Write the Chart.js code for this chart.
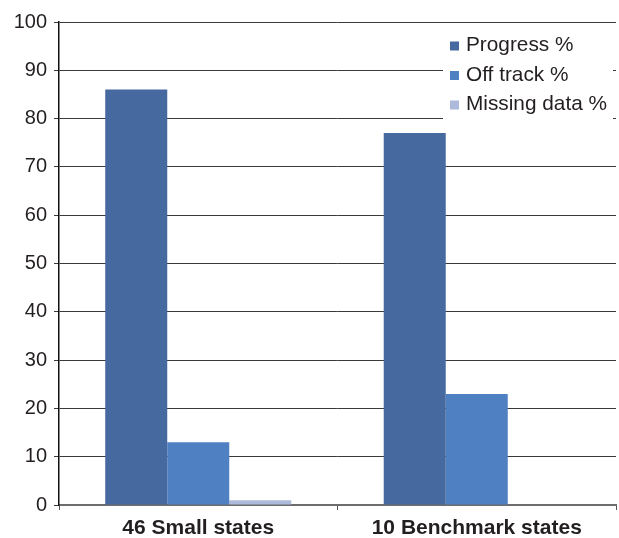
<!DOCTYPE html>
<html>
<head>
<meta charset="utf-8">
<script src="https://cdn.jsdelivr.net/npm/chart.js@4/dist/chart.umd.min.js"></script>
<style>
  html, body { margin: 0; padding: 0; background: #fff; }
  #wrap { width: 619px; height: 538px; }
</style>
</head>
<body>
<div id="wrap"><canvas id="c" width="619" height="538"></canvas></div>
<script>
const categories = ['46 Small states', '10 Benchmark states'];
const progress = [86, 77];
const offTrack = [13, 23];
const missingData = [1, 0];
const seriesNames = ['Progress %', 'Off track %', 'Missing data %'];
const seriesColors = ['#46699f', '#4f80c1', '#adbadb'];

const textColor = '#231f20';
const font = 'Liberation Sans, Arial, Helvetica, sans-serif';

// Legend box drawn inside the plot area, top right, on a white panel
const insideLegend = {
  id: 'insideLegend',
  afterDatasetsDraw(chart) {
    const ctx = chart.ctx;
    const area = chart.chartArea;
    const x0 = area.right - 173, y0 = area.top + 4, w = 170, h = 97;
    ctx.save();
    ctx.fillStyle = '#fff';
    ctx.fillRect(x0, y0, w, h);
    ctx.font = '20.8px ' + font;
    ctx.textBaseline = 'middle';
    chart.data.datasets.forEach((ds, i) => {
      const cy = area.top + 23.5 + i * 29.5;
      ctx.fillStyle = ds.backgroundColor;
      ctx.fillRect(x0 + 7, cy - 4, 9, 9);
      ctx.fillStyle = textColor;
      ctx.fillText(ds.label, x0 + 23, cy);
    });
    ctx.restore();
  }
};

new Chart(document.getElementById('c'), {
  type: 'bar',
  data: {
    labels: categories,
    datasets: [
      { label: seriesNames[0], data: progress, backgroundColor: seriesColors[0] },
      { label: seriesNames[1], data: offTrack, backgroundColor: seriesColors[1] },
      { label: seriesNames[2], data: missingData, backgroundColor: seriesColors[2] }
    ]
  },
  options: {
    responsive: false,
    animation: false,
    devicePixelRatio: 1,
    layout: { padding: { top: 22, right: 3, left: 0, bottom: 0 } },
    datasets: { bar: { categoryPercentage: 0.668, barPercentage: 1, borderWidth: 0 } },
    plugins: { legend: { display: false }, tooltip: { enabled: false } },
    scales: {
      x: {
        offset: true,
        grid: { offset: true, drawOnChartArea: false, drawTicks: true, tickLength: 5, color: '#555', lineWidth: 1 },
        border: { display: true, color: '#6d6d6d', width: 2 },
        ticks: { color: textColor, font: { family: font, size: 21, weight: 'bold' }, padding: 6 },
        afterFit(s) { s.height = 33; }
      },
      y: {
        min: 0, max: 100,
        ticks: { stepSize: 10, color: textColor, font: { family: font, size: 20 }, padding: 7 },
        grid: { color: '#3a3a3a', lineWidth: 1, tickLength: 5 },
        border: { display: true, color: '#111', width: 1.5 },
        afterFit(s) { s.width = 59; }
      }
    }
  },
  plugins: [insideLegend]
});
</script>
</body>
</html>
